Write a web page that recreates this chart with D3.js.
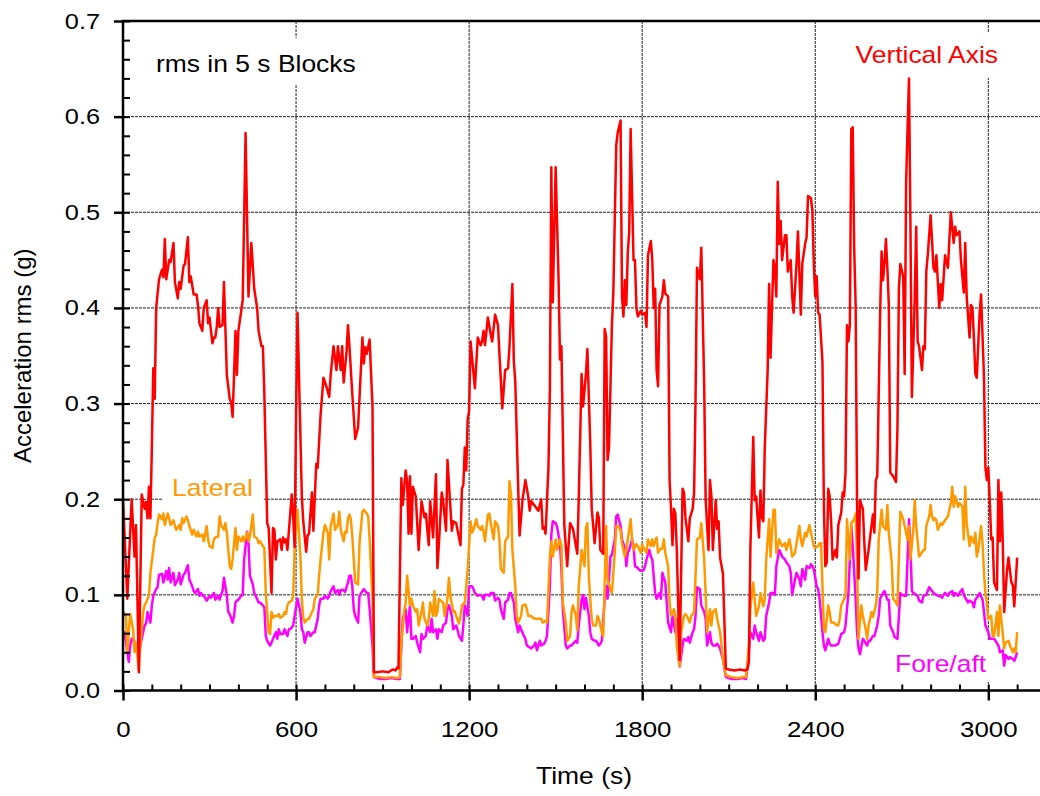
<!DOCTYPE html>
<html>
<head>
<meta charset="utf-8">
<script src="https://cdn.jsdelivr.net/npm/d3@7"></script>
<style>
  body { margin: 0; background: #fff; }
  svg text { font-family: "Liberation Sans", Arial, Helvetica, sans-serif; }
</style>
</head>
<body>
<div id="chart"></div>
<script>
// axis ticks
const xTicks = [0, 600, 1200, 1800, 2400, 3000];
const yTicks = [0, 0.1, 0.2, 0.3, 0.4, 0.5, 0.6, 0.7];

// rms acceleration (g) against time (s)
const vertical = [
  [0,.200],[15,.096],[30,.200],[40,.140],[45,.173],[55,.019],[65,.205],[75,.190],[80,.197],[85,.180],
  [90,.213],[95,.180],[100,.254],[105,.337],[110,.305],[115,.400],[125,.430],[135,.440],[140,.432],[145,.472],
  [150,.430],[160,.450],[165,.448],[175,.468],[180,.427],[190,.410],[195,.427],[200,.420],[210,.444],[215,.446],
  [225,.474],[230,.427],[235,.433],[245,.414],[255,.414],[260,.403],[265,.384],[275,.376],[280,.400],[290,.408],
  [295,.384],[300,.390],[310,.363],[315,.369],[320,.369],[325,.380],[330,.400],[335,.380],[345,.382],[350,.427],
  [360,.330],[370,.305],[375,.301],[380,.286],[385,.330],[390,.376],[395,.330],[400,.376],[410,.397],[415,.408],
  [425,.583],[435,.412],[445,.468],[455,.420],[465,.400],[470,.376],[480,.360],[485,.360],[490,.310],[500,.175],
  [505,.170],[515,.102],[520,.170],[525,.168],[530,.137],[535,.156],[545,.158],[550,.147],[555,.160],[560,.155],
  [565,.158],[570,.147],[585,.205],[590,.182],[595,.150],[600,.288],[605,.395],[620,.203],[625,.177],[635,.145],
  [640,.162],[645,.164],[655,.207],[660,.167],[670,.237],[675,.233],[685,.288],[695,.327],[705,.318],[715,.307],
  [720,.330],[730,.360],[740,.335],[745,.360],[755,.335],[760,.360],[765,.322],[775,.354],[780,.382],[785,.360],
  [795,.310],[805,.263],[815,.275],[830,.369],[835,.342],[840,.359],[845,.352],[855,.367],[865,.297],[870,.019],
  [880,.019],[900,.020],[920,.019],[935,.022],[945,.021],[950,.024],[955,.023],[965,.222],[970,.194],[980,.230],
  [985,.219],[990,.164],[995,.224],[1000,.164],[1005,.213],[1015,.203],[1025,.147],[1035,.198],[1045,.181],[1050,.185],
  [1060,.152],[1065,.198],[1075,.160],[1085,.226],[1090,.128],[1095,.152],[1105,.207],[1110,.198],[1120,.167],[1125,.241],
  [1140,.167],[1145,.177],[1155,.175],[1170,.152],[1175,.211],[1180,.215],[1185,.254],[1190,.230],[1195,.284],[1200,.292],
  [1205,.365],[1220,.316],[1230,.369],[1240,.361],[1245,.365],[1250,.376],[1255,.361],[1265,.390],[1275,.372],[1280,.365],
  [1290,.393],[1300,.382],[1315,.295],[1325,.335],[1335,.337],[1340,.360],[1350,.425],[1355,.344],[1360,.323],[1370,.213],
  [1375,.162],[1385,.199],[1395,.220],[1405,.203],[1410,.188],[1415,.198],[1430,.192],[1440,.188],[1450,.200],[1455,.169],
  [1460,.171],[1465,.164],[1475,.233],[1480,.314],[1485,.547],[1490,.406],[1500,.547],[1510,.431],[1515,.346],[1520,.360],
  [1530,.173],[1540,.130],[1550,.175],[1560,.169],[1575,.143],[1580,.200],[1590,.331],[1595,.297],[1605,.331],[1610,.357],
  [1620,.258],[1625,.190],[1630,.173],[1635,.154],[1645,.186],[1650,.180],[1655,.147],[1665,.143],[1670,.378],[1675,.370],
  [1680,.241],[1685,.254],[1695,.382],[1700,.416],[1710,.570],[1715,.583],[1725,.596],[1730,.412],[1735,.391],[1740,.429],
  [1745,.403],[1750,.457],[1755,.480],[1760,.587],[1770,.450],[1775,.450],[1780,.400],[1785,.391],[1795,.397],[1800,.393],
  [1810,.395],[1815,.380],[1820,.455],[1830,.470],[1835,.450],[1840,.400],[1845,.420],[1850,.335],[1855,.318],[1860,.403],
  [1870,.412],[1875,.429],[1880,.415],[1890,.412],[1895,.220],[1900,.190],[1905,.152],[1910,.190],[1915,.185],[1920,.147],
  [1930,.032],[1940,.211],[1945,.207],[1950,.181],[1960,.156],[1965,.180],[1975,.190],[1980,.207],[1985,.305],[1990,.442],
  [2000,.430],[2005,.463],[2015,.318],[2020,.199],[2030,.147],[2035,.220],[2040,.203],[2045,.147],[2055,.199],[2060,.169],
  [2065,.177],[2070,.139],[2080,.122],[2090,.023],[2100,.022],[2120,.021],[2140,.022],[2155,.021],[2165,.022],[2170,.030],
  [2175,.147],[2185,.265],[2190,.199],[2195,.203],[2205,.160],[2210,.209],[2215,.181],[2220,.177],[2225,.254],[2235,.335],
  [2240,.425],[2245,.348],[2255,.450],[2260,.442],[2265,.412],[2270,.532],[2275,.467],[2280,.491],[2285,.450],[2295,.476],
  [2300,.476],[2305,.438],[2315,.450],[2320,.412],[2325,.395],[2335,.446],[2340,.480],[2350,.393],[2355,.446],[2365,.467],
  [2370,.474],[2375,.517],[2385,.515],[2390,.502],[2395,.446],[2400,.412],[2405,.433],[2410,.395],[2415,.393],[2425,.344],
  [2430,.190],[2435,.130],[2440,.134],[2445,.211],[2450,.203],[2455,.177],[2460,.137],[2470,.147],[2475,.139],[2480,.173],
  [2490,.186],[2495,.207],[2500,.203],[2505,.228],[2510,.382],[2515,.365],[2520,.382],[2525,.587],[2530,.589],[2535,.463],
  [2540,.403],[2545,.194],[2550,.117],[2555,.199],[2565,.190],[2570,.156],[2575,.126],[2585,.147],[2590,.160],[2600,.184],
  [2605,.165],[2610,.220],[2615,.224],[2625,.395],[2630,.459],[2635,.429],[2640,.446],[2645,.472],[2650,.442],[2655,.403],
  [2660,.228],[2670,.224],[2680,.218],[2685,.275],[2690,.420],[2695,.446],[2705,.433],[2710,.331],[2715,.532],[2725,.640],
  [2730,.489],[2735,.307],[2745,.412],[2750,.485],[2755,.365],[2760,.360],[2770,.335],[2775,.360],[2780,.357],[2785,.438],
  [2790,.455],[2800,.497],[2810,.442],[2815,.438],[2820,.455],[2830,.400],[2835,.425],[2840,.408],[2850,.455],[2860,.442],
  [2870,.500],[2880,.468],[2885,.485],[2890,.476],[2900,.480],[2905,.450],[2915,.416],[2920,.468],[2925,.412],[2935,.369],
  [2940,.403],[2945,.400],[2950,.369],[2955,.331],[2960,.327],[2970,.395],[2975,.414],[2985,.327],[2990,.233],[2995,.220],
  [3000,.233],[3005,.199],[3010,.158],[3015,.160],[3020,.113],[3030,.105],[3035,.220],[3040,.156],[3045,.207],[3050,.156],
  [3055,.082],[3065,.126],[3070,.139],[3080,.113],[3085,.110],[3090,.088],[3100,.139]
];

const lateral = [
  [0,.083],[10,.078],[15,.040],[20,.061],[25,.080],[35,.064],[40,.040],[45,.050],[55,.021],[60,.047],
  [70,.082],[75,.089],[80,.092],[90,.099],[95,.123],[105,.147],[110,.160],[115,.163],[120,.175],[125,.184],
  [135,.179],[140,.185],[145,.173],[155,.185],[160,.180],[165,.173],[175,.178],[180,.172],[185,.168],[195,.173],
  [200,.168],[205,.180],[210,.175],[220,.182],[225,.178],[230,.172],[240,.163],[245,.168],[255,.161],[260,.166],
  [265,.161],[275,.163],[280,.156],[290,.172],[295,.158],[300,.151],[310,.149],[315,.158],[320,.160],[330,.161],
  [335,.182],[340,.173],[350,.168],[355,.175],[360,.165],[370,.130],[375,.127],[380,.137],[390,.170],[395,.147],
  [400,.161],[410,.156],[415,.161],[420,.156],[430,.165],[435,.156],[440,.161],[450,.184],[455,.161],[465,.159],
  [470,.154],[475,.156],[485,.151],[490,.149],[495,.102],[500,.082],[505,.061],[510,.059],[515,.082],[520,.076],
  [525,.078],[535,.078],[540,.080],[545,.076],[555,.078],[560,.082],[565,.080],[570,.089],[575,.092],[585,.094],
  [590,.099],[595,.147],[605,.189],[615,.140],[620,.096],[625,.076],[630,.071],[640,.075],[645,.075],[655,.082],
  [660,.085],[665,.096],[675,.100],[680,.120],[685,.137],[695,.165],[700,.173],[710,.165],[715,.137],[720,.172],
  [730,.185],[735,.168],[745,.173],[750,.187],[755,.168],[765,.156],[770,.166],[775,.165],[780,.180],[785,.184],
  [790,.179],[795,.161],[800,.137],[805,.113],[815,.111],[820,.154],[830,.187],[835,.189],[845,.185],[850,.182],
  [855,.158],[865,.096],[870,.014],[890,.014],[910,.013],[930,.014],[950,.013],[960,.014],[965,.050],[975,.083],
  [980,.092],[985,.120],[995,.089],[1000,.096],[1005,.089],[1015,.082],[1020,.085],[1025,.068],[1035,.082],[1040,.092],
  [1045,.075],[1055,.068],[1060,.075],[1065,.092],[1075,.078],[1080,.104],[1085,.078],[1090,.082],[1095,.096],[1100,.094],
  [1110,.092],[1115,.078],[1125,.096],[1130,.118],[1135,.099],[1145,.082],[1150,.083],[1155,.078],[1165,.070],[1170,.078],
  [1175,.089],[1185,.092],[1190,.109],[1195,.127],[1205,.177],[1210,.165],[1215,.168],[1225,.179],[1230,.172],[1240,.168],
  [1245,.172],[1250,.166],[1255,.156],[1265,.184],[1270,.185],[1275,.175],[1285,.158],[1290,.177],[1300,.172],[1305,.158],
  [1310,.127],[1320,.123],[1325,.156],[1335,.161],[1340,.219],[1345,.206],[1350,.147],[1360,.109],[1365,.078],[1370,.071],
  [1380,.078],[1385,.089],[1395,.090],[1400,.085],[1405,.078],[1415,.078],[1420,.076],[1430,.075],[1440,.075],[1450,.075],
  [1455,.071],[1465,.073],[1470,.071],[1480,.140],[1485,.156],[1490,.140],[1500,.158],[1505,.147],[1515,.158],[1520,.151],
  [1525,.092],[1535,.071],[1540,.052],[1550,.057],[1555,.082],[1560,.089],[1570,.078],[1575,.063],[1580,.109],[1590,.147],
  [1595,.140],[1600,.130],[1605,.170],[1610,.175],[1615,.120],[1620,.095],[1625,.075],[1630,.068],[1640,.068],[1645,.078],
  [1650,.075],[1660,.061],[1665,.057],[1670,.109],[1675,.172],[1680,.116],[1690,.106],[1695,.102],[1705,.144],[1710,.172],
  [1715,.172],[1725,.168],[1730,.154],[1740,.140],[1745,.147],[1750,.158],[1760,.179],[1765,.158],[1770,.147],[1780,.153],
  [1785,.151],[1795,.144],[1800,.153],[1805,.149],[1815,.144],[1820,.158],[1830,.151],[1835,.158],[1840,.151],[1850,.160],
  [1855,.144],[1860,.147],[1870,.149],[1875,.158],[1880,.144],[1890,.130],[1895,.092],[1900,.078],[1910,.085],[1915,.078],
  [1920,.047],[1930,.025],[1935,.061],[1945,.078],[1950,.080],[1955,.078],[1965,.071],[1970,.078],[1980,.082],[1985,.120],
  [1990,.158],[2000,.160],[2005,.175],[2015,.137],[2020,.102],[2025,.061],[2035,.085],[2040,.068],[2045,.082],[2055,.085],
  [2060,.075],[2070,.061],[2075,.047],[2080,.033],[2090,.016],[2110,.014],[2130,.013],[2150,.014],[2160,.014],[2170,.047],
  [2175,.085],[2185,.113],[2190,.096],[2195,.078],[2205,.088],[2210,.102],[2220,.088],[2225,.096],[2230,.137],[2240,.179],
  [2245,.140],[2255,.189],[2260,.189],[2265,.144],[2275,.158],[2280,.154],[2285,.151],[2295,.154],[2300,.147],[2310,.158],
  [2315,.151],[2320,.140],[2330,.144],[2335,.154],[2345,.172],[2350,.158],[2355,.151],[2365,.165],[2370,.161],[2380,.173],
  [2390,.158],[2395,.151],[2400,.149],[2410,.151],[2415,.154],[2420,.154],[2430,.064],[2435,.061],[2445,.089],[2450,.082],
  [2455,.071],[2465,.071],[2470,.069],[2480,.068],[2485,.075],[2490,.089],[2500,.096],[2505,.099],[2510,.179],[2515,.158],
  [2520,.137],[2525,.175],[2535,.179],[2540,.185],[2545,.134],[2550,.054],[2560,.089],[2565,.078],[2575,.064],[2580,.054],
  [2585,.068],[2595,.082],[2600,.077],[2610,.089],[2615,.102],[2620,.158],[2630,.189],[2635,.172],[2645,.168],[2650,.194],
  [2655,.165],[2665,.134],[2670,.096],[2680,.092],[2685,.089],[2690,.140],[2695,.187],[2705,.179],[2710,.172],[2720,.158],
  [2725,.172],[2730,.137],[2740,.168],[2745,.199],[2750,.172],[2760,.140],[2765,.142],[2775,.147],[2780,.147],[2785,.172],
  [2795,.182],[2800,.194],[2805,.182],[2810,.178],[2815,.180],[2820,.178],[2825,.168],[2835,.175],[2840,.173],[2850,.178],
  [2855,.180],[2860,.182],[2870,.196],[2875,.213],[2880,.192],[2885,.203],[2895,.192],[2900,.196],[2910,.192],[2915,.158],
  [2920,.213],[2925,.175],[2935,.151],[2940,.161],[2950,.154],[2955,.165],[2960,.140],[2965,.147],[2975,.172],[2980,.154],
  [2985,.123],[2990,.102],[2995,.092],[3000,.075],[3010,.078],[3015,.057],[3020,.057],[3030,.082],[3035,.057],[3040,.089],
  [3050,.060],[3055,.044],[3060,.050],[3070,.052],[3075,.047],[3085,.040],[3090,.044],[3095,.040],[3100,.061]
];

const foreAft = [
  [0,.061],[5,.061],[15,.040],[20,.030],[25,.047],[30,.054],[35,.054],[45,.047],[50,.047],[55,.037],
  [60,.047],[65,.054],[75,.068],[80,.070],[85,.082],[95,.071],[100,.089],[105,.099],[115,.106],[120,.108],
  [125,.121],[135,.122],[140,.113],[150,.125],[155,.116],[160,.128],[165,.113],[175,.123],[180,.110],[190,.116],
  [195,.123],[200,.111],[210,.121],[215,.123],[225,.131],[230,.116],[240,.109],[245,.104],[250,.102],[260,.106],
  [265,.099],[270,.102],[275,.100],[285,.097],[290,.094],[300,.099],[305,.097],[315,.102],[320,.095],[330,.099],
  [335,.095],[340,.100],[345,.104],[350,.118],[360,.099],[365,.082],[370,.080],[380,.071],[385,.078],[390,.092],
  [395,.094],[400,.095],[410,.099],[415,.100],[420,.137],[430,.166],[435,.154],[440,.120],[450,.111],[455,.102],
  [460,.099],[470,.092],[475,.092],[485,.089],[490,.087],[495,.057],[500,.052],[510,.047],[515,.050],[520,.054],
  [530,.061],[535,.054],[540,.064],[545,.059],[555,.059],[560,.064],[570,.057],[575,.064],[580,.064],[590,.068],
  [595,.078],[605,.096],[615,.082],[620,.064],[625,.061],[630,.050],[640,.061],[645,.061],[650,.057],[660,.061],
  [665,.061],[675,.075],[680,.089],[685,.096],[695,.096],[700,.099],[710,.096],[715,.099],[720,.104],[730,.109],
  [735,.102],[745,.105],[750,.100],[755,.105],[765,.105],[770,.103],[780,.113],[785,.120],[790,.120],[795,.109],
  [800,.085],[805,.078],[815,.071],[820,.099],[830,.104],[835,.106],[845,.102],[850,.102],[855,.085],[865,.047],
  [870,.014],[890,.012],[910,.012],[930,.013],[950,.012],[960,.012],[965,.047],[970,.075],[980,.085],[985,.061],
  [995,.089],[1000,.054],[1005,.054],[1015,.057],[1020,.050],[1030,.040],[1035,.059],[1040,.054],[1050,.057],[1055,.068],
  [1065,.061],[1070,.075],[1075,.061],[1085,.064],[1090,.054],[1095,.064],[1105,.061],[1110,.068],[1120,.071],[1125,.085],
  [1130,.089],[1140,.078],[1145,.064],[1155,.068],[1160,.063],[1165,.057],[1175,.052],[1180,.068],[1185,.089],[1195,.078],
  [1200,.109],[1210,.109],[1215,.106],[1220,.102],[1230,.099],[1235,.100],[1245,.099],[1250,.095],[1255,.100],[1265,.100],
  [1270,.099],[1275,.102],[1285,.102],[1290,.094],[1300,.097],[1305,.095],[1310,.085],[1320,.075],[1325,.092],[1335,.095],
  [1340,.102],[1345,.102],[1355,.092],[1360,.075],[1370,.061],[1375,.068],[1380,.064],[1390,.057],[1395,.054],[1400,.047],
  [1410,.045],[1415,.044],[1425,.047],[1430,.050],[1435,.042],[1445,.052],[1450,.047],[1460,.049],[1465,.052],[1470,.057],
  [1480,.109],[1485,.163],[1490,.177],[1500,.175],[1505,.171],[1515,.154],[1520,.127],[1525,.085],[1535,.047],[1540,.044],
  [1550,.047],[1555,.047],[1560,.049],[1570,.052],[1575,.050],[1580,.068],[1590,.095],[1595,.100],[1600,.085],[1605,.097],
  [1615,.078],[1620,.061],[1625,.054],[1635,.052],[1640,.052],[1650,.047],[1655,.049],[1660,.052],[1670,.096],[1675,.109],
  [1680,.096],[1690,.140],[1695,.142],[1705,.158],[1710,.182],[1715,.184],[1725,.172],[1730,.158],[1740,.149],[1745,.130],
  [1750,.144],[1755,.147],[1765,.158],[1770,.151],[1775,.130],[1785,.128],[1790,.126],[1800,.125],[1805,.126],[1810,.130],
  [1815,.137],[1825,.147],[1830,.140],[1835,.137],[1845,.102],[1850,.096],[1860,.102],[1865,.096],[1870,.123],[1880,.113],
  [1885,.092],[1890,.071],[1900,.061],[1905,.078],[1915,.061],[1920,.075],[1925,.037],[1930,.025],[1940,.047],[1945,.054],
  [1955,.052],[1960,.056],[1965,.050],[1975,.061],[1980,.064],[1985,.078],[1990,.108],[2000,.106],[2005,.089],[2015,.082],
  [2020,.075],[2025,.047],[2035,.061],[2040,.050],[2045,.047],[2055,.047],[2060,.049],[2070,.044],[2075,.038],[2080,.033],
  [2090,.014],[2110,.012],[2130,.012],[2150,.013],[2160,.012],[2170,.040],[2175,.061],[2185,.054],[2190,.068],[2195,.061],
  [2205,.052],[2210,.061],[2220,.052],[2225,.054],[2230,.078],[2240,.092],[2245,.102],[2255,.102],[2260,.100],[2265,.130],
  [2275,.147],[2280,.144],[2285,.140],[2295,.137],[2300,.134],[2310,.130],[2315,.123],[2320,.100],[2330,.116],[2335,.123],
  [2345,.116],[2350,.109],[2355,.127],[2365,.116],[2370,.130],[2380,.128],[2385,.132],[2390,.130],[2395,.127],[2405,.109],
  [2410,.106],[2415,.096],[2425,.061],[2430,.047],[2435,.042],[2445,.054],[2450,.049],[2455,.047],[2465,.047],[2470,.047],
  [2480,.049],[2485,.054],[2490,.059],[2500,.061],[2505,.068],[2515,.102],[2520,.137],[2525,.172],[2530,.151],[2540,.096],
  [2545,.061],[2550,.044],[2555,.038],[2565,.054],[2570,.052],[2580,.047],[2585,.052],[2590,.052],[2600,.057],[2605,.057],
  [2615,.068],[2620,.078],[2625,.096],[2635,.102],[2640,.104],[2650,.095],[2655,.095],[2660,.068],[2670,.061],[2675,.056],
  [2685,.054],[2690,.078],[2695,.102],[2700,.100],[2710,.099],[2715,.099],[2720,.137],[2725,.179],[2730,.151],[2735,.104],
  [2740,.102],[2750,.100],[2755,.099],[2760,.094],[2770,.092],[2775,.099],[2785,.100],[2790,.104],[2795,.108],[2805,.104],
  [2810,.102],[2820,.100],[2825,.099],[2830,.099],[2840,.097],[2845,.100],[2850,.102],[2860,.099],[2865,.102],[2875,.104],
  [2880,.099],[2885,.102],[2895,.099],[2900,.102],[2910,.106],[2915,.100],[2920,.097],[2930,.092],[2935,.094],[2945,.092],
  [2950,.087],[2955,.095],[2965,.099],[2970,.102],[2980,.095],[2985,.082],[2990,.068],[3000,.061],[3005,.054],[3015,.054],
  [3020,.054],[3025,.052],[3035,.047],[3040,.040],[3050,.042],[3055,.026],[3060,.037],[3070,.033],[3075,.035],[3085,.033],
  [3090,.031],[3095,.035],[3100,.040]
];

const width = 1040;
const height = 796;
const plot = { left: 123, top: 21, right: 1046, bottom: 690.5 };
const stretch = 1.15; // the original lettering is drawn a bit wide
const axisW = 2.5;
const gridColor = "#222";

const svg = d3
  .select("#chart")
  .append("svg")
  .attr("width", width)
  .attr("height", height);

const x = d3.scaleLinear().domain([0, 3200]).range([plot.left, plot.right]);
const y = d3.scaleLinear().domain([0, 0.7]).range([plot.bottom, plot.top]);

// grid
svg
  .append("g")
  .selectAll("line")
  .data(yTicks.filter(d => d > 0 && d < 0.7))
  .enter()
  .append("line")
  .attr("x1", plot.left)
  .attr("x2", plot.right)
  .attr("y1", d => y(d))
  .attr("y2", d => y(d))
  .attr("stroke", gridColor)
  .attr("stroke-width", 1)
  .attr("stroke-dasharray", "3,1");

svg
  .append("g")
  .selectAll("line")
  .data(xTicks.filter(d => d > 0))
  .enter()
  .append("line")
  .attr("x1", d => x(d))
  .attr("x2", d => x(d))
  .attr("y1", plot.top)
  .attr("y2", plot.bottom)
  .attr("stroke", gridColor)
  .attr("stroke-width", 1)
  .attr("stroke-dasharray", "3,1");

// white boxes behind the annotations hide the grid there
const boxes = [
  [145, 38, 222, 46],
  [843, 33, 162, 45],
  [163, 472, 101, 32],
  [886, 640, 110, 42]
];
svg
  .append("g")
  .selectAll("rect")
  .data(boxes)
  .enter()
  .append("rect")
  .attr("x", d => d[0])
  .attr("y", d => d[1])
  .attr("width", d => d[2])
  .attr("height", d => d[3])
  .attr("fill", "#fff");

// series, fore/aft under lateral under vertical
const line = d3
  .line()
  .x(d => x(d[0]))
  .y(d => y(d[1]));

const series = [
  { data: foreAft, color: "#ff00ff" },
  { data: lateral, color: "#ff9900" },
  { data: vertical, color: "#ff0000" }
];
svg
  .append("g")
  .selectAll("path")
  .data(series)
  .enter()
  .append("path")
  .attr("d", d => line(d.data))
  .attr("fill", "none")
  .attr("stroke", d => d.color)
  .attr("stroke-width", 2.5)
  .attr("stroke-linejoin", "round");

// frame
svg
  .append("path")
  .attr(
    "d",
    `M${plot.right},${plot.top}H${plot.left}V${plot.bottom}H${plot.right}`
  )
  .attr("fill", "none")
  .attr("stroke", "#000")
  .attr("stroke-width", axisW)
  .attr("stroke-linecap", "square");

// y axis: major ticks outside, minor ticks inside
const yAxis = svg
  .append("g")
  .attr("transform", "translate(" + plot.left + ",0)")
  .call(
    d3
      .axisLeft(y)
      .tickValues(yTicks)
      .tickSize(9)
      .tickFormat(d3.format(".1f"))
  )
  .attr("font-size", 22)
  .attr("font-family", null);
yAxis.select(".domain").remove();
yAxis.selectAll("line").attr("stroke", "#000").attr("stroke-width", axisW);
yAxis
  .selectAll("text")
  .attr("x", null)
  .attr("fill", "#000")
  .attr("transform", "translate(-23,0) scale(" + stretch + ",1)");

svg
  .append("g")
  .attr("transform", "translate(" + plot.left + ",0)")
  .call(
    d3
      .axisRight(y)
      .tickValues(d3.range(0, 36).map(i => i * 0.02))
      .tickSize(7)
      .tickFormat("")
  )
  .call(g => g.select(".domain").remove())
  .selectAll("line")
  .attr("stroke", "#000")
  .attr("stroke-width", 2);

// x axis
const xAxis = svg
  .append("g")
  .attr("transform", "translate(0," + plot.bottom + ")")
  .call(
    d3
      .axisBottom(x)
      .tickValues(xTicks)
      .tickSize(10)
      .tickPadding(21)
      .tickFormat(d3.format("d"))
  )
  .attr("font-size", 22.5)
  .attr("font-family", null);
xAxis.select(".domain").remove();
xAxis.selectAll("line").attr("stroke", "#000").attr("stroke-width", axisW);
xAxis
  .selectAll("text")
  .attr("fill", "#000")
  .attr("transform", "scale(" + stretch + ",1)");

svg
  .append("g")
  .attr("transform", "translate(0," + plot.bottom + ")")
  .call(
    d3
      .axisTop(x)
      .tickValues(d3.range(0, 33).map(i => i * 100))
      .tickSize(6)
      .tickFormat("")
  )
  .call(g => g.select(".domain").remove())
  .selectAll("line")
  .attr("stroke", "#000")
  .attr("stroke-width", 2);

// titles and annotations
const note = (str, px, py, color, anchor, size) =>
  svg
    .append("text")
    .attr("transform", `translate(${px},${py}) scale(${stretch},1)`)
    .attr("text-anchor", anchor)
    .attr("fill", color)
    .style("font-size", size + "px")
    .text(str);

note("Time (s)", 584, 784, "#000", "middle", 23);
note("rms in 5 s Blocks", 156, 72, "#000", "start", 23);
note("Vertical Axis", 998, 63, "#ff0000", "end", 23);
note("Lateral", 172, 496, "#ff9900", "start", 23);
note("Fore/aft", 895, 672, "#ff00ff", "start", 23);

svg
  .append("text")
  .attr("transform", "translate(31," + (plot.top + plot.bottom) / 2 + ") rotate(-90)")
  .attr("text-anchor", "middle")
  .style("font-size", "24px")
  .text("Acceleration rms (g)");
</script>
</body>
</html>
